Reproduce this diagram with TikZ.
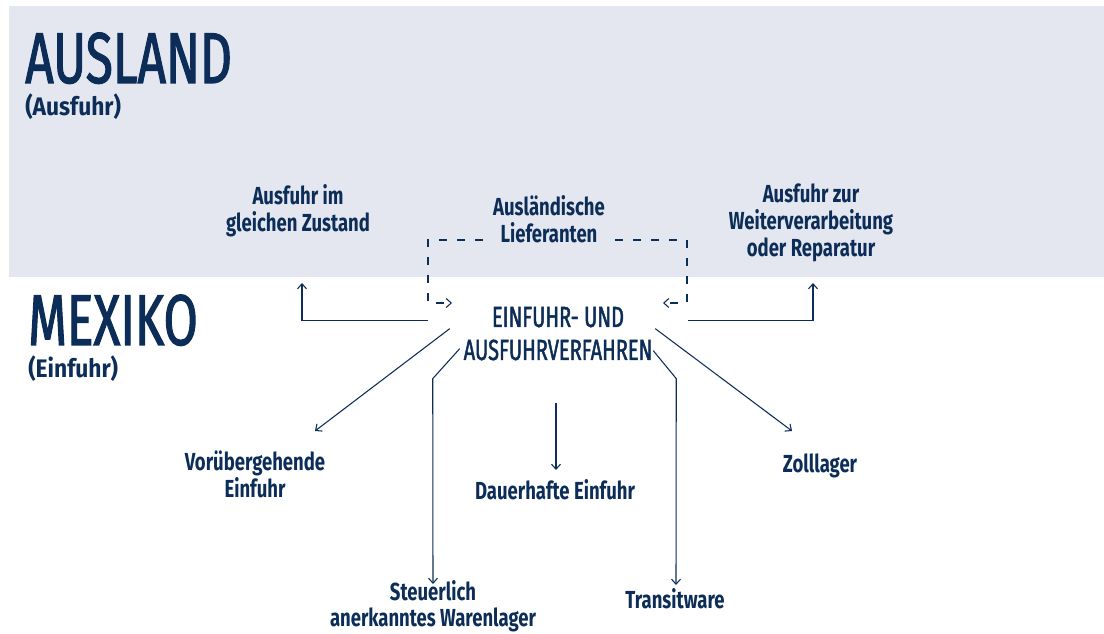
\documentclass[tikz,border=0pt]{standalone}
\usepackage{fontspec}
\setmainfont{Fira Sans}
\newfontfamily\headfont[FakeStretch=0.69,FakeBold=1.5]{Fira Sans}
\newfontfamily\labfont[FakeStretch=0.75]{Fira Sans}
\newfontfamily\subfont[FakeStretch=0.9]{Fira Sans}
\usetikzlibrary{arrows.meta,calc}
\definecolor{navy}{HTML}{0B2D57}
\definecolor{band}{HTML}{E4E7F0}
\tikzset{>={Straight Barb[length=3.8pt,width=6.8pt]},
  every node/.style={text=navy,inner sep=0pt},
  big/.style={font=\headfont\fontsize{54}{54}\selectfont,anchor=base west},
  sub/.style={font=\subfont\bfseries\fontsize{19}{19}\selectfont,anchor=base west},
  lab/.style={font=\labfont\bfseries\fontsize{18.5}{20.25}\selectfont,align=center,anchor=base},
  mid/.style={font=\headfont\fontsize{21.8}{24.75}\selectfont,align=center,anchor=base,minimum width=195pt},
  conn/.style={draw=navy,line width=0.8pt,->},
  dashline/.style={dash pattern=on 6pt off 7.5pt}}

\begin{document}
\begin{tikzpicture}[x=0.75pt,y=-0.75pt]
    \useasboundingbox (0,0) rectangle (1104,634);
    \fill[band] (9,6) rectangle (1104,277);
    % Laender
    \node[big] (ausland) at (25,83) {AUSLAND};
    \node[sub] (ausfuhr) at (25,116) {(Ausfuhr)};
    \node[big] (mexiko) at (28,345) {MEXIKO};
    \node[sub] (einfuhr) at (28,378) {(Einfuhr)};
    % Verfahren (base = letzte Zeile)
    \node[mid] (verf) at (558,360) {EINFUHR- UND\\AUSFUHRVERFAHREN};
    \node[lab] (gz) at (298,232) {Ausfuhr im\\gleichen Zustand};
    \node[lab,inner xsep=7.5pt] (lief) at (549,243) {Ausländische\\Lieferanten};
    \node[lab] (wv) at (811,257) {Ausfuhr zur\\Weiterverarbeitung\\oder Reparatur};
    \node[lab] (vor) at (255,498) {Vorübergehende\\Einfuhr};
    \node[lab] (dau) at (555,500) {Dauerhafte Einfuhr};
    \node[lab] (zoll) at (820,473) {Zolllager};
    \node[lab] (steu) at (433,627) {Steuerlich\\anerkanntes Warenlager};
    \node[lab] (trans) at (675,609) {Transitware};
    % Pfeilenden
    \coordinate (gz-in) at (302,283);
    \coordinate (wv-in) at (813,283);
    \coordinate (vor-in) at (315,431);
    \coordinate (zoll-in) at (792,431);
    \coordinate (dau-in) at (556,470);
    \coordinate (steu-in) at (433,584);
    \coordinate (trans-in) at (676,585);
    \coordinate (dl) at (428,240);
    \coordinate (dr) at (687,240);
    \coordinate (lin) at (452,303);
    \coordinate (rin) at (663,303);
    \draw[conn] ($(verf.west)+(0,-13)$) -| (gz-in);
    \draw[conn] ($(verf.east)+(0,-13)$) -| (wv-in);
    \draw[conn] ($(verf.west)+(22,-5)$) -- (vor-in);
    \draw[conn] ($(verf.west)+(32,15)$) -- ++(-27,30) -- (steu-in);
    \draw[conn] ($(verf.south)+(-2,42)$) -- (dau-in);
    \draw[conn] ($(verf.east)+(-35,17)$) -- ++(23,28) -- (trans-in);
    \draw[conn] ($(verf.east)+(-33,-5)$) -- (zoll-in);
    \draw[conn,dashline] (lief.west |- dl) -- (dl) |- (lin);
    \draw[conn,dashline] (lief.east |- dr) -- (dr) |- (rin);
\end{tikzpicture}
\end{document}
